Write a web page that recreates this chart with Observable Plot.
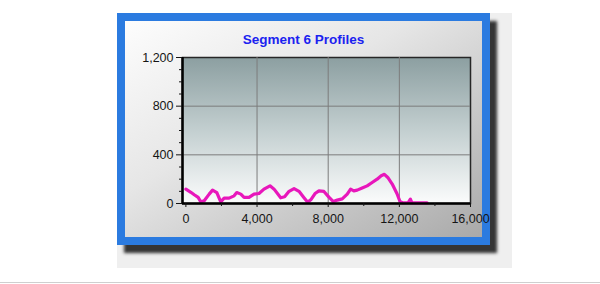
<!DOCTYPE html>
<html>
<head>
<meta charset="utf-8">
<script src="https://cdn.jsdelivr.net/npm/d3@7"></script>
<script src="https://cdn.jsdelivr.net/npm/@observablehq/plot@0.6"></script>
<style>
  html, body { margin: 0; padding: 0; background: #fff; }
  body { width: 600px; height: 284px; position: relative; overflow: hidden; font-family: Arial, "Liberation Sans", sans-serif; }
  #backdrop { position: absolute; left: 117px; top: 13px; width: 395px; height: 255px; background: #efefef; }
  #box { position: absolute; left: 117px; top: 13px; width: 357px; height: 216px; border: 8px solid #2b7be0;
         background: linear-gradient(to bottom right, #fdfdfd 0%, #e6e6e6 40%, #b9b9b9 85%, #a9a9a9 100%);
         box-shadow: 7px 8px 3px rgba(20,20,20,0.85); }
  #title { position: absolute; left: 125px; width: 357px; top: 33px; text-align: center; font-weight: bold;
           font-size: 13.5px; line-height: 13px; color: #1b22f0; }
  #chart { position: absolute; left: 0; top: 0; }
  #rule { position: absolute; left: 0; top: 282px; width: 600px; height: 1px; background: #cfcfcf; }
</style>
</head>
<body>
<div id="backdrop"></div>
<div id="box"></div>
<div id="title">Segment 6 Profiles</div>
<div id="chart"></div>
<div id="rule"></div>
<script>
// Data (distance along segment vs. profile value)
const distance = [0, 280, 470, 690, 840, 1030, 1310, 1500, 1740, 1960, 2150, 2430, 2710, 2860, 3090, 3270, 3550, 3830, 4110, 4390, 4730, 4960, 5330, 5550, 5800, 6080, 6360, 6640, 6850, 7050, 7260, 7480, 7760, 8040, 8290, 8510, 8790, 9070, 9260, 9440, 9630, 9910, 10190, 10470, 10750, 10980, 11160, 11350, 11600, 11870, 12030, 12200, 12500, 12620, 12710, 13000, 13560];
const profile  = [118, 92, 72, 50, 14, 22, 77, 110, 90, 14, 44, 44, 63, 90, 77, 50, 50, 77, 82, 118, 145, 118, 47, 55, 100, 123, 100, 48, 10, 35, 82, 104, 99, 52, 16, 28, 38, 77, 118, 104, 110, 127, 145, 173, 200, 228, 240, 214, 160, 80, 18, 5, 8, 36, 5, 5, 5];

const xMajor = [0, 4000, 8000, 12000, 16000];
const xMinor = [2000, 6000, 10000, 14000];
const yMajor = [0, 400, 800, 1200];
const yMinor = [100, 200, 300, 500, 600, 700, 900, 1000, 1100];
const xDomain = [-190, 16000];
const yDomain = [0, 1200];

const data = distance.map((d, i) => ({x: d, y: profile[i]}));
const fmt = d3.format(",");
const blank = () => "";

const plot = Plot.plot({
  width: 600,
  height: 284,
  marginLeft: 182,
  marginRight: 130,
  marginTop: 57,
  marginBottom: 81,
  style: {background: "transparent", fontFamily: "Arial, 'Liberation Sans', sans-serif", fontSize: "12.5px", color: "#151515", overflow: "visible"},
  x: {domain: xDomain},
  y: {domain: yDomain},
  marks: [
    Plot.frame({fill: "url(#plotbg)", stroke: "#262626", strokeWidth: 1.5}),
    Plot.gridX(xMajor.filter(v => v > 0 && v < 16000), {stroke: "#7c7c7c", strokeOpacity: 1, strokeWidth: 1}),
    Plot.gridY(yMajor.filter(v => v > 0 && v < 1200), {stroke: "#7c7c7c", strokeOpacity: 1, strokeWidth: 1}),
    Plot.line(data, {x: "x", y: "y", stroke: "#e817bb", strokeWidth: 3.2, strokeLinejoin: "round"}),
    Plot.ruleX([xDomain[0]], {stroke: "#000", strokeWidth: 2.5}),
    Plot.ruleY([yDomain[0]], {stroke: "#000", strokeWidth: 2.5}),
    Plot.axisX(xMajor, {tickFormat: fmt, tickSize: 4, tickPadding: 7, label: null}),
    Plot.axisX(xMinor, {tickFormat: blank, tickSize: 3, label: null}),
    Plot.axisY(yMajor, {tickFormat: fmt, tickSize: 6, tickPadding: 3, label: null}),
    Plot.axisY(yMinor, {tickFormat: blank, tickSize: 3, label: null})
  ]
});

const ns = "http://www.w3.org/2000/svg";
const defs = document.createElementNS(ns, "defs");
const grad = document.createElementNS(ns, "linearGradient");
grad.setAttribute("id", "plotbg");
grad.setAttribute("x1", "0"); grad.setAttribute("y1", "0");
grad.setAttribute("x2", "0"); grad.setAttribute("y2", "1");
[["0", "#8c9fa1"], ["0.5", "#c3cfd0"], ["1", "#fbfcfc"]].forEach(([o, c]) => {
  const s = document.createElementNS(ns, "stop");
  s.setAttribute("offset", o);
  s.setAttribute("stop-color", c);
  grad.appendChild(s);
});
defs.appendChild(grad);
plot.insertBefore(defs, plot.firstChild);

document.getElementById("chart").appendChild(plot);
</script>
</body>
</html>
